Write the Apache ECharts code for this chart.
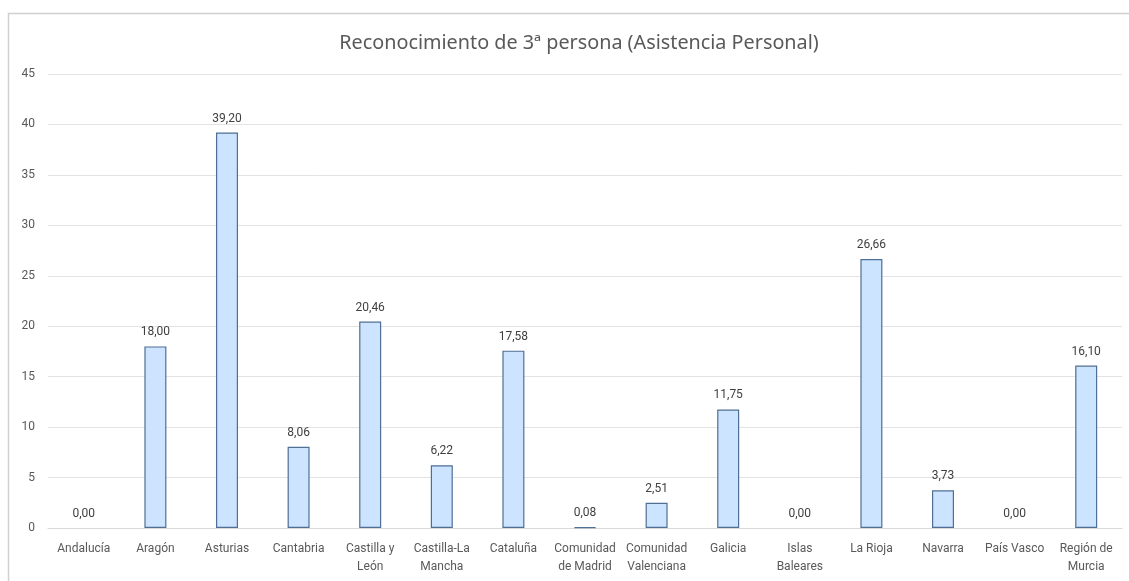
<!DOCTYPE html>
<html>
<head>
<meta charset="utf-8">
<script src="https://cdn.jsdelivr.net/npm/echarts@6/dist/echarts.min.js"></script>
<style>html,body{margin:0;padding:0;background:#fff;}#c{width:1129px;height:581px;}</style>
</head>
<body>
<div id="c"></div>
<script>
const categories = ["Andalucía","Aragón","Asturias","Cantabria","Castilla y\nLeón","Castilla-La\nMancha","Cataluña","Comunidad\nde Madrid","Comunidad\nValenciana","Galicia","Islas\nBaleares","La Rioja","Navarra","País Vasco","Región de\nMurcia"];
const values = [0.00,18.00,39.20,8.06,20.46,6.22,17.58,0.08,2.51,11.75,0.00,26.66,3.73,0.00,16.10];
const titleText = "Reconocimiento de 3ª persona (Asistencia Personal)";

const barData = values.map(v => v === 0 ? {value: v, itemStyle: {borderWidth: 0, color: 'transparent'}} : v);

const chart = echarts.init(document.getElementById('c'), null, {renderer:'canvas'});
chart.setOption({
  backgroundColor:'#fff',
  animation:false,
  textStyle:{fontFamily:'Roboto, "Liberation Sans", sans-serif'},
  graphic:[{type:'rect',shape:{x:8.5,y:13.5,width:1140,height:600},style:{fill:'none',stroke:'#d0d0d0',lineWidth:1.5},silent:true}],
  title:{text:titleText,left:574,top:28,textAlign:'center',textStyle:{fontSize:19.8,fontWeight:'normal',color:'#595959',fontFamily:'"Noto Sans", sans-serif'}},
  grid:{left:48,right:7,top:74,bottom:53},
  xAxis:{type:'category',data:categories,
    axisLine:{lineStyle:{color:'#d9d9d9',width:1}},axisTick:{show:false},
    axisLabel:{interval:0,color:'#595959',fontSize:12,lineHeight:18,margin:12}},
  yAxis:{type:'value',min:0,max:45,interval:5,
    axisLine:{show:false},axisTick:{show:false},
    axisLabel:{color:'#595959',fontSize:12,margin:13},
    splitLine:{lineStyle:{color:'#e3e3e3',width:1}}},
  series:[{type:'bar',data:barData,barWidth:22,
    itemStyle:{color:'#cce4ff',borderColor:'#4f6f94',borderWidth:1.2},
    label:{show:true,position:'top',distance:8,color:'#404040',fontSize:12,
      formatter:p=>p.value.toFixed(2).replace('.',',')}}]
});
</script>
</body>
</html>
